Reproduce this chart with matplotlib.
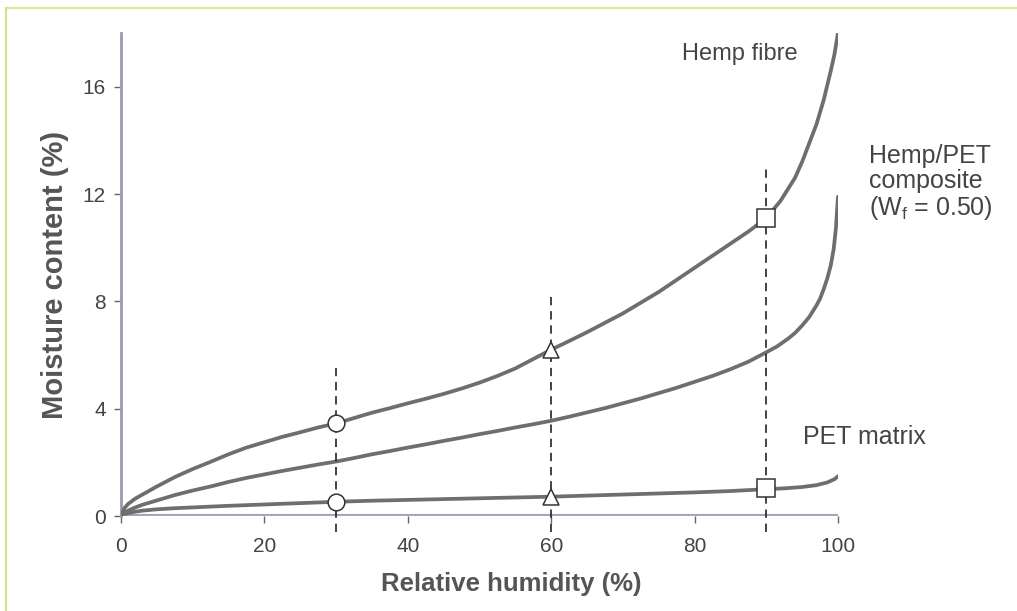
import matplotlib.pyplot as plt
from matplotlib.lines import Line2D

# ---- data ----
rh_hemp = [0, 0.5, 1, 2, 3, 5, 7.5, 10, 12.5, 15, 17.5, 20, 22.5, 25, 27.5, 30, 32.5, 35, 37.5,
           40, 42.5, 45, 47.5, 50, 52.5, 55, 57.5, 60, 62.5, 65, 67.5, 70, 72.5, 75, 77.5, 80,
           82.5, 85, 87.5, 90, 92, 94, 95, 96, 97, 98, 99, 99.5, 100]
mc_hemp = [0, 0.3, 0.45, 0.65, 0.8, 1.1, 1.45, 1.75, 2.02, 2.3, 2.55, 2.75, 2.95, 3.12, 3.3, 3.45,
           3.65, 3.85, 4.02, 4.2, 4.37, 4.55, 4.75, 4.97, 5.22, 5.5, 5.85, 6.2, 6.52, 6.85, 7.2,
           7.55, 7.95, 8.35, 8.8, 9.25, 9.7, 10.15, 10.6, 11.1, 11.75, 12.6, 13.2, 13.9, 14.6,
           15.5, 16.6, 17.2, 18.0]

rh_comp = [0, 0.5, 1, 2, 3, 5, 7.5, 10, 12.5, 15, 17.5, 20, 22.5, 25, 27.5, 30, 32.5, 35, 37.5,
           40, 42.5, 45, 47.5, 50, 52.5, 55, 57.5, 60, 62.5, 65, 67.5, 70, 72.5, 75, 77.5, 80,
           82.5, 85, 87.5, 90, 91.5, 93, 94, 95, 96, 97, 97.5, 98, 98.5, 99, 99.4, 99.7, 100]
mc_comp = [0, 0.12, 0.2, 0.32, 0.42, 0.58, 0.78, 0.95, 1.1, 1.27, 1.42, 1.55, 1.68, 1.8, 1.92,
           2.03, 2.16, 2.3, 2.42, 2.55, 2.67, 2.8, 2.92, 3.05, 3.17, 3.3, 3.42, 3.55, 3.7, 3.86,
           4.02, 4.2, 4.38, 4.58, 4.78, 5.0, 5.22, 5.47, 5.75, 6.1, 6.32, 6.6, 6.82, 7.1, 7.42,
           7.85, 8.1, 8.45, 8.85, 9.35, 9.95, 10.7, 11.9]

rh_pet = [0, 0.5, 1, 2, 3, 5, 7.5, 10, 15, 20, 25, 30, 35, 40, 45, 50, 55, 60, 65, 70, 75, 80,
          85, 90, 92.5, 95, 97, 98.5, 99.5, 100]
mc_pet = [0, 0.07, 0.11, 0.16, 0.2, 0.25, 0.29, 0.32, 0.38, 0.43, 0.48, 0.53, 0.57, 0.6, 0.63,
          0.66, 0.69, 0.72, 0.76, 0.8, 0.84, 0.88, 0.93, 1.0, 1.03, 1.08, 1.15, 1.25, 1.37, 1.48]

# highlighted points: RH, fibre value, matrix value, top of dashed line, marker
mark_rh = [30, 60, 90]
mark_fibre = [3.45, 6.2, 11.1]
mark_pet = [0.53, 0.72, 1.05]
dash_top = [5.5, 8.2, 13.1]
mark_style = ['o', '^', 's']

xticks = [0, 20, 40, 60, 80, 100]
yticks = [0, 4, 8, 12, 16]

plt.rcParams['font.family'] = ['Liberation Sans', 'DejaVu Sans']

fig = plt.figure(figsize=(10.17, 6.11), dpi=100)
ax = fig.add_axes([121 / 1017, 1 - 516 / 611, (838 - 121) / 1017, (516 - 33) / 611])

curve_col = '#6e6e6e'
for xs, ys in [(rh_hemp, mc_hemp), (rh_comp, mc_comp), (rh_pet, mc_pet)]:
    ax.plot(xs, ys, color=curve_col, lw=2.7, solid_capstyle='round', solid_joinstyle='round', zorder=3)

# zero line (hatched look of the scan)
ax.axhline(0, color='#a7a3bd', lw=3, zorder=2)

for x, top in zip(mark_rh, dash_top):
    ax.plot([x, x], [-0.6, top], color='#222222', lw=1.2, dashes=(5, 3.5), zorder=4, clip_on=False)

for x, yf, yp, m in zip(mark_rh, mark_fibre, mark_pet, mark_style):
    ms = 12 if m != 's' else 12.5
    ax.plot([x, x], [yf, yp], ls='none', marker=m, ms=ms, mfc='white', mec='#333333', mew=1.1, zorder=5)

ax.set_xlim(0, 100)
ax.set_ylim(0, 18)
ax.set_xticks(xticks)
ax.set_yticks(yticks)
ax.tick_params(axis='both', direction='out', length=5, width=1, color='#666666',
               labelsize=15, labelcolor='#444444')
ax.tick_params(axis='x', pad=10)
ax.tick_params(axis='y', pad=6)

for s in ['top', 'right', 'bottom']:
    ax.spines[s].set_visible(False)
ax.spines['left'].set_color('#9c98b4')
ax.spines['left'].set_linewidth(2)

ax.set_xlabel('Relative humidity (%)', fontsize=18.5, fontweight='bold', color='#555555', labelpad=14)
ax.xaxis.set_label_coords((511 - 121) / 717, -0.115)
ax.set_ylabel('Moisture content (%)', fontsize=21, fontweight='bold', color='#555555', labelpad=10)

txt_col = '#444444'
ax.text(86.3, 17.2, 'Hemp fibre', fontsize=17, color=txt_col, ha='center', va='center')
ax.text(104.3, 12.4, 'Hemp/PET\ncomposite\n(W$_\\mathregular{f}$ = 0.50)', fontsize=18, color=txt_col,
        ha='left', va='center', linespacing=1.05, clip_on=False)
ax.text(95.1, 2.95, 'PET matrix', fontsize=18, color=txt_col, ha='left', va='center', clip_on=False)

# faint scan border
border = '#d7e27c'
fig.add_artist(Line2D([6 / 1017, 1], [1 - 8 / 611, 1 - 8 / 611], color=border, lw=1.2, transform=fig.transFigure))
fig.add_artist(Line2D([6 / 1017, 6 / 1017], [0, 1 - 8 / 611], color=border, lw=1.5, transform=fig.transFigure))

fig.savefig('out.png', dpi=100)
